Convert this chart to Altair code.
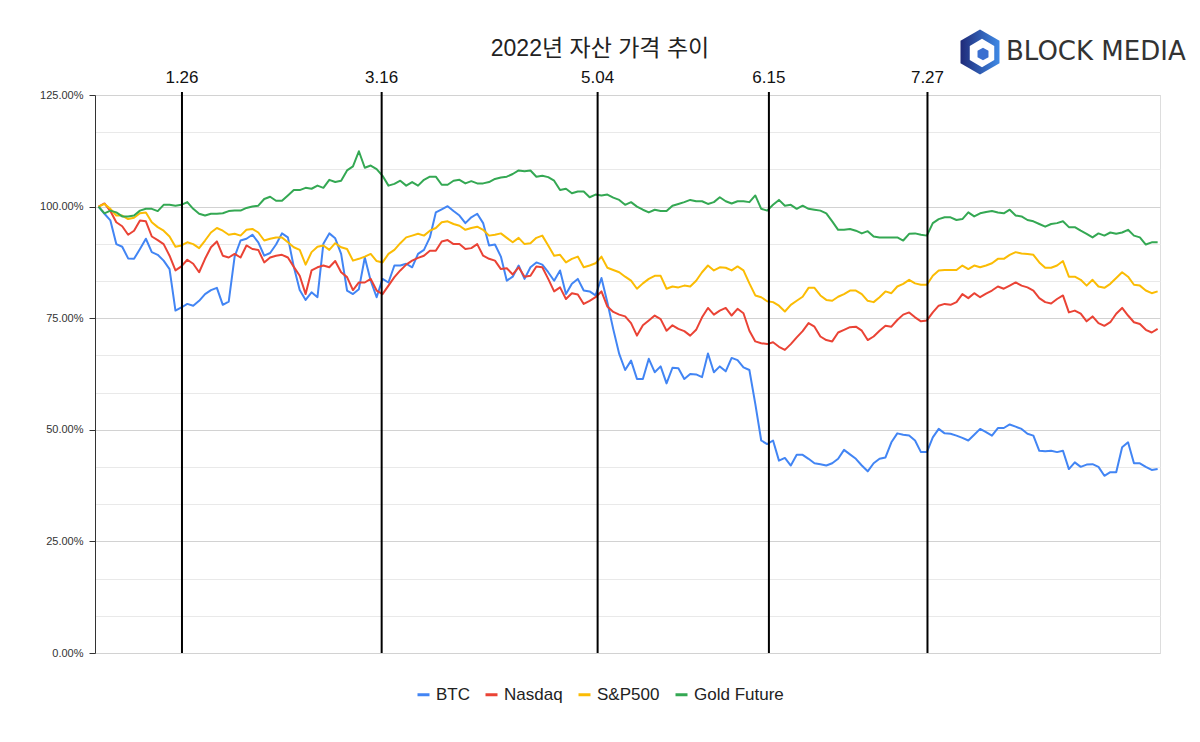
import altair as alt
import pandas as pd

# ---- data (percent of value on the first day) ----
btc = [100.0, 98.4, 96.9, 91.6, 91.0, 88.4, 88.3, 90.5, 92.8, 89.8,
       89.2, 87.9, 86.0, 76.7, 77.4, 78.2, 77.8, 78.9, 80.4, 81.3,
       81.8, 78.0, 78.7, 88.8, 92.4, 92.8, 93.7, 92.0, 89.0, 89.6,
       91.5, 94.0, 93.1, 86.5, 81.3, 79.1, 80.8, 79.7, 91.7, 94.0,
       92.9, 89.4, 81.2, 80.4, 81.5, 88.6, 83.4, 79.7, 83.8, 83.0,
       86.8, 86.8, 87.2, 86.4, 89.4, 90.3, 93.1, 98.7, 99.4, 100.1,
       99.0, 98.0, 96.3, 97.6, 98.4, 96.3, 91.3, 91.5, 88.8, 83.4,
       84.3, 86.8, 83.8, 86.4, 87.5, 87.0, 85.3, 83.4, 85.7, 80.4,
       82.7, 83.8, 81.2, 81.0, 80.1, 84.0, 78.5, 72.5, 67.0, 63.4,
       65.5, 61.4, 61.4, 65.9, 62.9, 64.2, 60.4, 63.9, 63.8, 61.4,
       62.5, 62.4, 61.8, 67.1, 62.9, 64.2, 63.1, 66.1, 65.6, 64.0,
       63.4, 55.8, 47.6, 46.8, 47.6, 43.1, 43.7, 42.0, 44.4, 44.4,
       43.5, 42.5, 42.3, 42.0, 42.5, 43.5, 45.5, 44.5, 43.5, 42.0,
       40.7, 42.5, 43.5, 43.8, 47.2, 49.2, 48.9, 48.7, 47.6, 45.0,
       45.0, 48.3, 50.2, 49.2, 49.1, 48.7, 48.2, 47.6, 48.9, 50.2,
       49.5, 48.7, 50.4, 50.4, 51.2, 50.7, 50.2, 49.1, 48.7, 45.3,
       45.2, 45.3, 45.0, 45.3, 41.2, 42.7, 41.7, 42.2, 42.3, 41.7,
       39.7, 40.5, 40.5, 46.1, 47.2, 42.5, 42.5, 41.7, 41.0, 41.2]

nasdaq = [100.0, 100.7, 99.0, 96.5, 95.6, 93.7, 94.6, 96.9, 96.7, 93.3,
          92.5, 91.6, 89.0, 85.7, 86.6, 88.1, 87.2, 85.3, 88.3, 90.9,
          92.2, 89.0, 88.6, 89.4, 88.6, 91.3, 90.5, 90.3, 87.5, 88.6,
          89.0, 89.2, 88.6, 86.5, 84.5, 80.4, 85.7, 86.4, 86.8, 86.4,
          87.8, 85.3, 84.2, 81.3, 83.0, 83.0, 83.8, 81.2, 80.4, 82.3,
          84.2, 85.7, 87.0, 87.9, 88.5, 89.0, 90.1, 90.1, 92.2, 92.5,
          91.6, 91.6, 90.5, 90.7, 91.6, 89.0, 88.3, 87.9, 86.0, 86.2,
          84.8, 86.4, 84.3, 84.5, 86.6, 86.4, 83.8, 81.0, 81.9, 79.3,
          80.6, 80.3, 78.2, 78.9, 79.7, 81.0, 77.6, 76.4, 75.8, 75.4,
          73.9, 71.1, 73.4, 74.5, 75.6, 74.8, 72.2, 73.4, 72.6, 72.1,
          71.1, 72.4, 75.2, 77.3, 75.8, 76.7, 77.3, 75.6, 77.1, 76.1,
          72.2, 69.8, 69.4, 69.2, 69.6, 68.6, 67.9, 69.2, 70.7, 72.1,
          73.9, 73.1, 70.9, 70.1, 69.8, 71.8, 72.4, 73.0, 73.1, 72.2,
          70.1, 70.9, 72.2, 73.3, 73.1, 74.6, 75.8, 76.3, 75.2, 74.3,
          74.5, 76.3, 77.8, 78.2, 78.0, 78.6, 80.4, 79.5, 80.6, 79.7,
          80.5, 81.2, 82.1, 81.6, 82.3, 83.0, 82.3, 81.9, 81.2, 79.5,
          78.6, 78.3, 79.3, 80.1, 76.3, 76.7, 76.0, 74.3, 75.4, 73.9,
          73.3, 74.1, 76.0, 77.3, 75.6, 74.1, 73.7, 72.4, 71.8, 72.6]

sp500 = [100.0, 100.6, 99.5, 98.0, 98.0, 97.2, 97.5, 98.5, 98.7, 96.5,
         95.4, 94.6, 93.3, 91.0, 91.3, 92.0, 91.6, 90.7, 92.4, 94.2,
         95.2, 94.6, 93.7, 93.9, 93.5, 94.8, 95.0, 94.2, 92.4, 92.8,
         93.1, 93.1, 92.0, 90.9, 90.3, 87.0, 89.8, 91.0, 91.3, 90.3,
         91.8, 90.9, 90.5, 87.9, 88.3, 88.8, 89.4, 87.8, 87.5, 89.4,
         90.3, 91.8, 93.1, 93.5, 93.9, 93.5, 94.6, 95.2, 96.5, 96.7,
         96.1, 95.7, 94.8, 95.2, 95.5, 94.8, 93.5, 93.7, 94.0, 93.0,
         92.0, 93.0, 91.6, 91.8, 93.0, 93.5, 91.3, 89.0, 89.2, 87.5,
         88.3, 88.8, 86.4, 86.8, 87.3, 88.8, 86.3, 85.8, 85.3, 84.3,
         83.4, 81.6, 82.8, 83.8, 84.5, 84.5, 81.6, 82.1, 81.9, 82.3,
         82.1, 83.4, 85.3, 86.8, 85.7, 86.4, 86.3, 85.7, 86.6, 85.7,
         82.8, 80.1, 79.7, 78.8, 78.6, 77.8, 76.5, 78.0, 78.9, 79.8,
         81.8, 81.8, 80.1, 79.1, 78.9, 79.8, 80.4, 81.2, 81.2, 80.4,
         78.9, 78.6, 79.7, 81.0, 80.6, 82.1, 82.7, 83.6, 82.8, 82.5,
         82.5, 84.5, 85.7, 85.8, 85.8, 85.8, 86.8, 86.0, 86.8, 86.4,
         86.8, 87.3, 88.3, 88.3, 89.2, 89.8, 89.5, 89.4, 89.2, 87.5,
         86.3, 86.3, 86.8, 87.8, 84.3, 84.3, 83.6, 82.3, 83.6, 82.1,
         81.8, 82.7, 84.0, 85.3, 84.3, 82.5, 82.3, 81.2, 80.6, 81.0]

gold = [100.0, 98.5, 99.1, 98.7, 97.8, 97.8, 98.0, 99.1, 99.5, 99.5,
        99.0, 100.4, 100.4, 100.2, 100.4, 101.0, 99.5, 98.4, 98.0, 98.4,
        98.4, 98.5, 99.0, 99.1, 99.1, 99.7, 100.0, 100.2, 101.7, 102.2,
        101.3, 101.3, 102.5, 103.7, 103.7, 104.2, 104.0, 104.7, 104.2, 106.0,
        105.5, 105.8, 108.1, 109.0, 112.4, 108.7, 109.2, 108.4, 106.9, 104.7,
        105.1, 105.8, 104.7, 105.5, 104.7, 106.0, 106.7, 106.7, 104.9, 104.9,
        105.8, 106.0, 105.2, 105.7, 105.2, 105.2, 105.5, 106.2, 106.5, 106.7,
        107.3, 108.1, 107.9, 108.1, 106.7, 106.9, 106.6, 105.8, 103.7, 104.0,
        103.0, 103.4, 103.4, 102.1, 102.7, 102.5, 102.7, 102.0, 101.5, 100.4,
        101.0, 100.0, 99.3, 98.7, 99.3, 99.0, 99.0, 100.2, 100.6, 101.0,
        101.5, 101.2, 101.2, 100.6, 101.0, 102.1, 101.2, 100.7, 101.2, 101.2,
        101.0, 102.5, 99.5, 99.1, 100.4, 101.5, 100.2, 100.4, 99.5, 100.2,
        99.5, 99.3, 99.1, 98.5, 96.7, 94.8, 94.8, 95.0, 94.6, 94.0,
        94.5, 93.3, 93.1, 93.1, 93.1, 93.1, 92.4, 93.9, 94.0, 93.7,
        93.5, 96.3, 97.2, 97.6, 97.6, 97.0, 97.2, 98.7, 97.8, 98.5,
        98.8, 99.0, 98.7, 98.5, 99.3, 98.0, 97.8, 97.0, 96.7, 96.1,
        95.5, 96.1, 96.3, 96.7, 95.4, 95.4, 94.6, 93.9, 93.1, 94.0,
        93.5, 94.2, 93.9, 94.2, 94.8, 93.5, 93.1, 91.5, 92.0, 92.0]

series_names = ["BTC", "Nasdaq", "S&P500", "Gold Future"]
series_colors = ["#4285F4", "#EA4335", "#FBBC04", "#34A853"]

event_labels = ["1.26", "3.16", "5.04", "6.15", "7.27"]
event_index = [14.1, 47.85, 84.35, 113.3, 140.1]

chart_title = "2022년 자산 가격 추이"
logo_text = "BLOCK MEDIA"

# ---- tables ----
rows = []
for name, vals in zip(series_names, [btc, nasdaq, sp500, gold]):
    for i, v in enumerate(vals):
        rows.append({"idx": i, "value": v, "series": name})
df = pd.DataFrame(rows)
ev_df = pd.DataFrame({"pos": event_index, "label": event_labels})

W, H = 1065, 558
x_scale = alt.Scale(domain=[-0.6, 179.4], nice=False, zero=False)
y_scale = alt.Scale(domain=[0, 125], nice=False, zero=False)

grid_vals = [k * 125 / 15 for k in range(16)]
major = "datum.value % 25 == 0"

y_axis = alt.Axis(
    values=grid_vals,
    labelExpr=f"{major} ? format(datum.value / 100, '.2%') : ''",
    grid=True,
    gridColor={"condition": {"test": major, "value": "#d2d2d2"}, "value": "#e9e9e9"},
    gridWidth=1,
    tickOpacity={"condition": {"test": major, "value": 1}, "value": 0},
    tickColor="#333333",
    tickSize=6,
    domainColor="#333333",
    labelFont="Liberation Sans",
    labelFontSize=11,
    labelColor="#333333",
    labelPadding=6,
    title=None,
)

lines = alt.Chart(df).mark_line(strokeWidth=2, strokeJoin="round").encode(
    x=alt.X("idx:Q", scale=x_scale, axis=None),
    y=alt.Y("value:Q", scale=y_scale, axis=y_axis),
    color=alt.Color(
        "series:N",
        scale=alt.Scale(domain=series_names, range=series_colors),
        legend=alt.Legend(
            orient="none", legendX=320, legendY=591, direction="horizontal",
            title=None, labelFont="Liberation Sans", labelFontSize=17,
            labelColor="#222222", symbolType="stroke", symbolStrokeWidth=3,
            symbolSize=144, labelOffset=4, columnPadding=9,
        ),
    ),
    detail="series:N",
)

rules = alt.Chart(ev_df).mark_rule(color="#000000", strokeWidth=2).encode(
    x=alt.X("pos:Q", scale=x_scale, axis=None),
    y=alt.value(-3),
    y2=alt.value(H),
)

ev_text = alt.Chart(ev_df).mark_text(
    font="Liberation Sans", fontSize=17, color="#111111", baseline="middle", align="center"
).encode(
    x=alt.X("pos:Q", scale=x_scale, axis=None),
    y=alt.value(-17),
    text="label:N",
)

title_df = pd.DataFrame({"t": [chart_title]})
title = alt.Chart(title_df).mark_text(
    font="Liberation Sans, Noto Sans CJK KR", fontSize=23, color="#222222",
    baseline="middle", align="center"
).encode(x=alt.value(505), y=alt.value(-46), text="t:N")

hexagon = "M0,-1 L0.866,-0.5 L0.866,0.5 L0,1 L-0.866,0.5 L-0.866,-0.5 Z"
logo_df = pd.DataFrame({"t": [logo_text]})
grad = alt.LinearGradient(
    gradient="linear",
    stops=[alt.GradientStop(color="#1f2a78", offset=0), alt.GradientStop(color="#3f8ae6", offset=1)],
    x1=0, x2=1, y1=0, y2=0,
)
logo_outer = alt.Chart(logo_df).mark_point(
    shape=hexagon, size=2025, filled=True, fill=grad, opacity=1, strokeWidth=0
).encode(x=alt.value(885), y=alt.value(-43))
logo_inner = alt.Chart(logo_df).mark_point(
    shape=hexagon, size=800, filled=True, fill="#ffffff", opacity=1, strokeWidth=0
).encode(x=alt.value(887), y=alt.value(-42))
logo_cube = alt.Chart(logo_df).mark_point(
    shape=hexagon, size=160, filled=True, fill="#3a6fd0", opacity=1, strokeWidth=0
).encode(x=alt.value(888), y=alt.value(-41))
logo_word = alt.Chart(logo_df).mark_text(
    font="DejaVu Sans", fontSize=26, color="#333333", baseline="middle", align="left"
).encode(x=alt.value(911), y=alt.value(-43), text="t:N")

chart = alt.layer(
    lines, rules, ev_text, title, logo_outer, logo_inner, logo_cube, logo_word
).properties(
    width=W, height=H,
    autosize=alt.AutoSizeParams(type="none"),
    padding={"left": 87, "top": 87, "right": 32, "bottom": 81},
).configure_view(stroke=None).configure(background="#ffffff")

chart.save("out.html", embed_options={"renderer": "svg", "actions": False})
